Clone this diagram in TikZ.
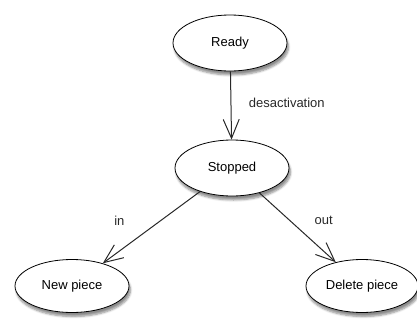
\documentclass[tikz,border=0pt]{standalone}
\usepackage{fontspec}
\setmainfont{Liberation Sans}
\usepackage{tikz}
\usetikzlibrary{shapes.geometric, arrows.meta, positioning, shadows.blur}
\definecolor{myline}{RGB}{40,40,40}
\tikzset{
  state/.style={ellipse, draw=black, fill=white, line width=0.8bp, minimum width=114bp, minimum height=56bp, inner sep=0pt, font=\fontsize{13bp}{15bp}\selectfont, blur shadow={shadow xshift=1.5bp, shadow yshift=-4bp, shadow blur steps=6, shadow opacity=45}},
  arrow/.style={-{Straight Barb[length=19bp, width=16bp, line width=1bp]}, line width=1bp, color=myline},
  lbl/.style={font=\fontsize{13bp}{15bp}\selectfont}
}

\begin{document}
\begin{tikzpicture}[x=1bp, y=-1bp]
  \useasboundingbox (0,0) rectangle (417,322);

  % States
  \node[state] (ready) at (230,43) {Ready};
  \node[state] (stopped) at (232,168) {Stopped};
  \node[state, minimum height=53bp] (newpiece) at (72,286) {New piece};
  \node[state, minimum width=112bp, minimum height=53bp] (delpiece) at (362,286) {Delete piece};

  % Transitions
  \draw[arrow] (ready) -- (stopped) node[lbl, midway, right=14bp, yshift=3bp] {desactivation};
  \draw[arrow] (stopped) -- (newpiece) node[lbl, midway, xshift=-32bp, yshift=7bp] {in};
  \draw[arrow] (stopped) -- (delpiece) node[lbl, midway, xshift=26bp, yshift=7bp] {out};
\end{tikzpicture}
\end{document}
